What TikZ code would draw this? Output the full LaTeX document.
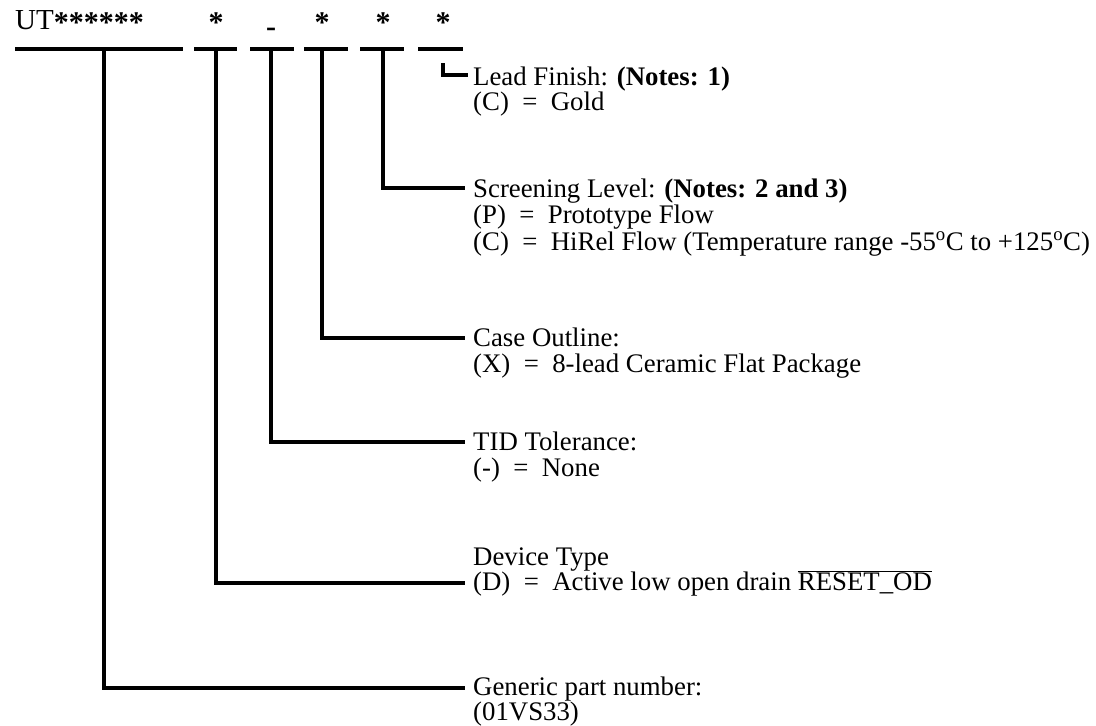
\documentclass[tikz,border=0pt]{standalone}
\usepackage{fontspec}
\setmainfont{Liberation Serif}
\usetikzlibrary{calc}
\newcommand{\bigstars}[1]{\raisebox{-3pt}{\fontsize{30}{30}\selectfont\bfseries #1}}
\tikzset{
  bar/.style={line width=3.5pt},
  conn/.style={line width=3.5pt},
  lbl/.style={anchor=base west, inner sep=0pt, font=\fontsize{26.8}{28}\selectfont},
  ttl/.style={inner sep=0pt, font=\fontsize{29}{30}\selectfont},
}
\begin{document}
\begin{tikzpicture}[x=1pt,y=-1pt]
\useasboundingbox (0,0) rectangle (1096,726);
% title
\node[ttl, anchor=base west] (ut) at (15,29) {UT\bigstars{******}};
\node[ttl, anchor=base] (s1) at (216,29) {\bigstars{*}};
\node[ttl, anchor=base, font=\fontsize{30}{30}\selectfont\bfseries] (s2) at (271,36) {-};
\node[ttl, anchor=base] (s3) at (322,29) {\bigstars{*}};
\node[ttl, anchor=base] (s4) at (383,29) {\bigstars{*}};
\node[ttl, anchor=base] (s5) at (443,29) {\bigstars{*}};
% bars
\draw[bar] (15,49) -- (183,49);
\draw[bar] (194,49) -- (237,49);
\draw[bar] (250,49) -- (294,49);
\draw[bar] (304,49) -- (348,49);
\draw[bar] (360,49) -- (404,49);
\draw[bar] (418,49) -- (463,49);
\coordinate (v0) at (104,49);
\coordinate (v1) at (216,49);
\coordinate (v2) at (271,49);
\coordinate (v3) at (322,49);
\coordinate (v4) at (383,49);
\coordinate (v5) at (443,63);
% labels
\node[lbl] (lead) at (473,85) {Lead Finish: \textbf{(Notes: 1)}};
\node[lbl] (lead2) at (473,110) {(C) \ = \ Gold};
\node[lbl] (scr) at (473,197) {Screening Level: \textbf{(Notes: 2 and 3)}};
\node[lbl] (scr2) at (473,223) {(P) \ = \ Prototype Flow};
\node[lbl] (scr3) at (473,250) {(C) \ = \ HiRel Flow (Temperature range -55\textsuperscript{o}C to +125\textsuperscript{o}C)};
\node[lbl] (case) at (473,346) {Case Outline:};
\node[lbl] (case2) at (473,372) {(X) \ = \ 8-lead Ceramic Flat Package};
\node[lbl] (tid) at (473,450) {TID Tolerance:};
\node[lbl] (tid2) at (473,476) {(-) \ = \ None};
\node[lbl] (dev) at (473,565) {Device Type};
\node[lbl] (dev2) at (473,590) {(D) \ = \ Active low open drain $\overline{\mbox{RESET\_OD}}$};
\node[lbl] (gen) at (473,695) {Generic part number:};
\node[lbl] (gen2) at (473,720) {(01VS33)};
% connectors
\draw[conn] (v5) |- ($(lead.base west)+(-5,-10)$);
\draw[conn] (v4) |- ($(scr.base west)+(-8,-9)$);
\draw[conn] (v3) |- ($(case.base west)+(-8,-8)$);
\draw[conn] (v2) |- ($(tid.base west)+(-8,-8)$);
\draw[conn] (v1) |- ($(dev2.base west)+(-8,-7)$);
\draw[conn] (v0) |- ($(gen.base west)+(-8,-7)$);
\end{tikzpicture}
\end{document}
